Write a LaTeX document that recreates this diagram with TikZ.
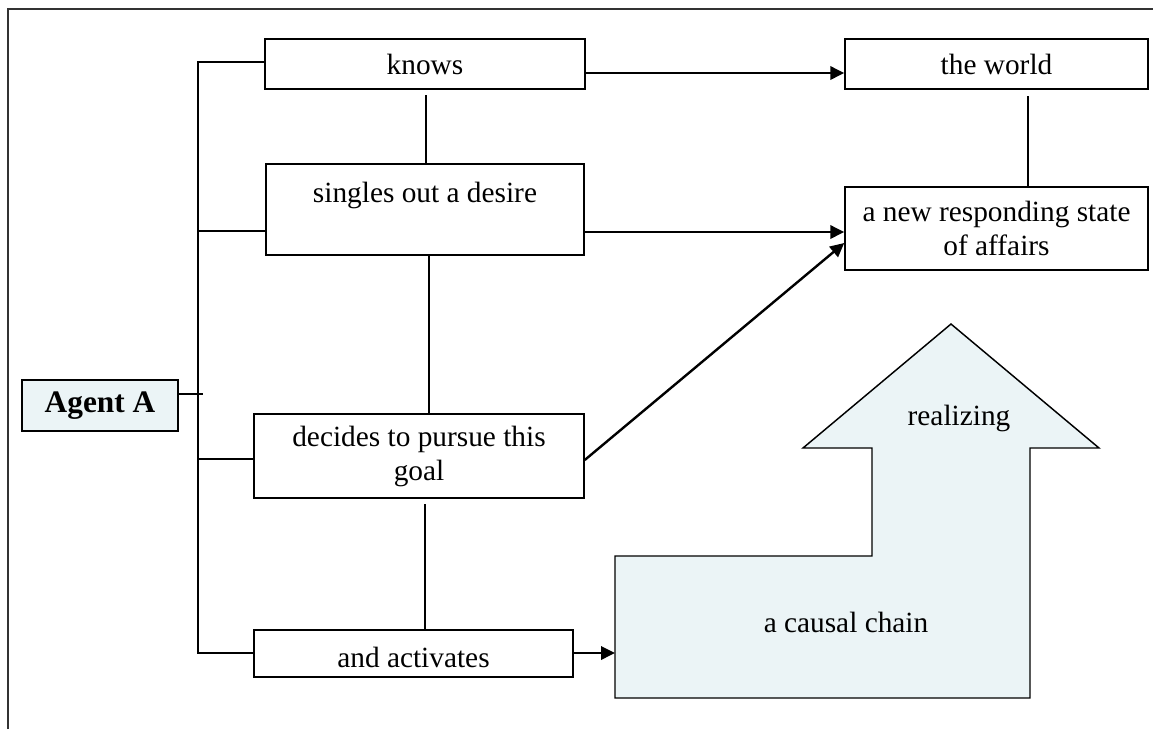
\documentclass[tikz,border=0pt]{standalone}
\usepackage{fontspec}
\setmainfont{Liberation Serif}
\usetikzlibrary{arrows.meta}
\definecolor{paleblue}{HTML}{EBF4F6}
\begin{document}
\begin{tikzpicture}[x=0.75pt,y=-0.75pt,
  box/.style={draw=black,line width=1.1pt,rectangle,inner sep=0pt,align=center,
    font=\fontsize{22}{25.5}\selectfont},
  link/.style={line width=1.4pt},
  arr/.style={line width=1.8pt,-{Triangle[length=10.5pt,width=10pt]}},
  frame/.style={line width=1.6pt,draw=black!80}]
\useasboundingbox (0,0) rectangle (1153,729);
\draw[frame] (8,729) -- (8,9) -- (1153,9);

\node[box,minimum width=240pt,minimum height=37.5pt] (knows) at (425,64) {knows};
\node[box,minimum width=227.25pt,minimum height=37.5pt] (world) at (996.5,64) {the world};
\node[box,minimum width=238.5pt,minimum height=68.25pt] (singles) at (425,209.5) {singles out a desire\\[-8pt] \strut};
\node[box,minimum width=227.25pt,minimum height=62.25pt] (state) at (996.5,228.5) {a new responding state\\of affairs};
\node[box,minimum width=247.5pt,minimum height=63pt] (decides) at (419,456) {decides to pursue this\\goal};
\node[box,minimum width=239.25pt,minimum height=35.25pt,text height=23pt,text depth=1.5pt] (activates) at (413.5,653.5) {and activates};
\node[box,fill=paleblue,minimum width=117pt,minimum height=38.25pt,
  font=\fontsize{23.5}{27}\selectfont\bfseries] (agent) at (100,405.5) {Agent A};

% big arrow shape
\draw[line width=1.1pt,fill=paleblue] (615,698) -- (615,556) -- (872,556) -- (872,448) -- (803,448)
  -- (951,324) -- (1099,448) -- (1030,448) -- (1030,698) -- cycle;
\node[font=\fontsize{22}{25.5}\selectfont] (realizing) at (959,418) {realizing};
\node[font=\fontsize{22}{25.5}\selectfont] (chain) at (846,622) {a causal chain};
\coordinate (chainL) at (615,653);

% bracket
\coordinate (bt) at (198,62);
\coordinate (bb) at (198,653);
\coordinate (b2) at (198,231);
\coordinate (b3) at (198,459);
\coordinate (ag) at (203,394);
\draw[link] (bt -| knows.west) -- (bt) -- (bb) -- (bb -| activates.west);
\draw[link] (b2) -- (b2 -| singles.west);
\draw[link] (b3) -- (b3 -| decides.west);
\draw[link] (ag -| agent.east) -- (ag);

% vertical links
\coordinate (v1) at (426,95);
\draw[link] (v1) -- (v1 |- singles.north);
\coordinate (v2) at (429,0);
\draw[link] (v2 |- singles.south) -- (v2 |- decides.north);
\coordinate (v3) at (425,504);
\draw[link] (v3) -- (v3 |- activates.north);
\coordinate (v4) at (1028,96);
\draw[link] (v4) -- (v4 |- state.north);

% arrows
\coordinate (a1) at (0,73);
\draw[arr] (a1 -| knows.east) -- (a1 -| world.west);
\coordinate (a2) at (0,232);
\draw[arr] (a2 -| singles.east) -- (a2 -| state.west);
\coordinate (a3s) at (0,460);
\coordinate (a3e) at (0,243);
\draw[arr] (a3s -| decides.east) -- (a3e -| state.west);
\draw[arr] (activates.east |- chainL) -- (chainL);
\end{tikzpicture}
\end{document}
